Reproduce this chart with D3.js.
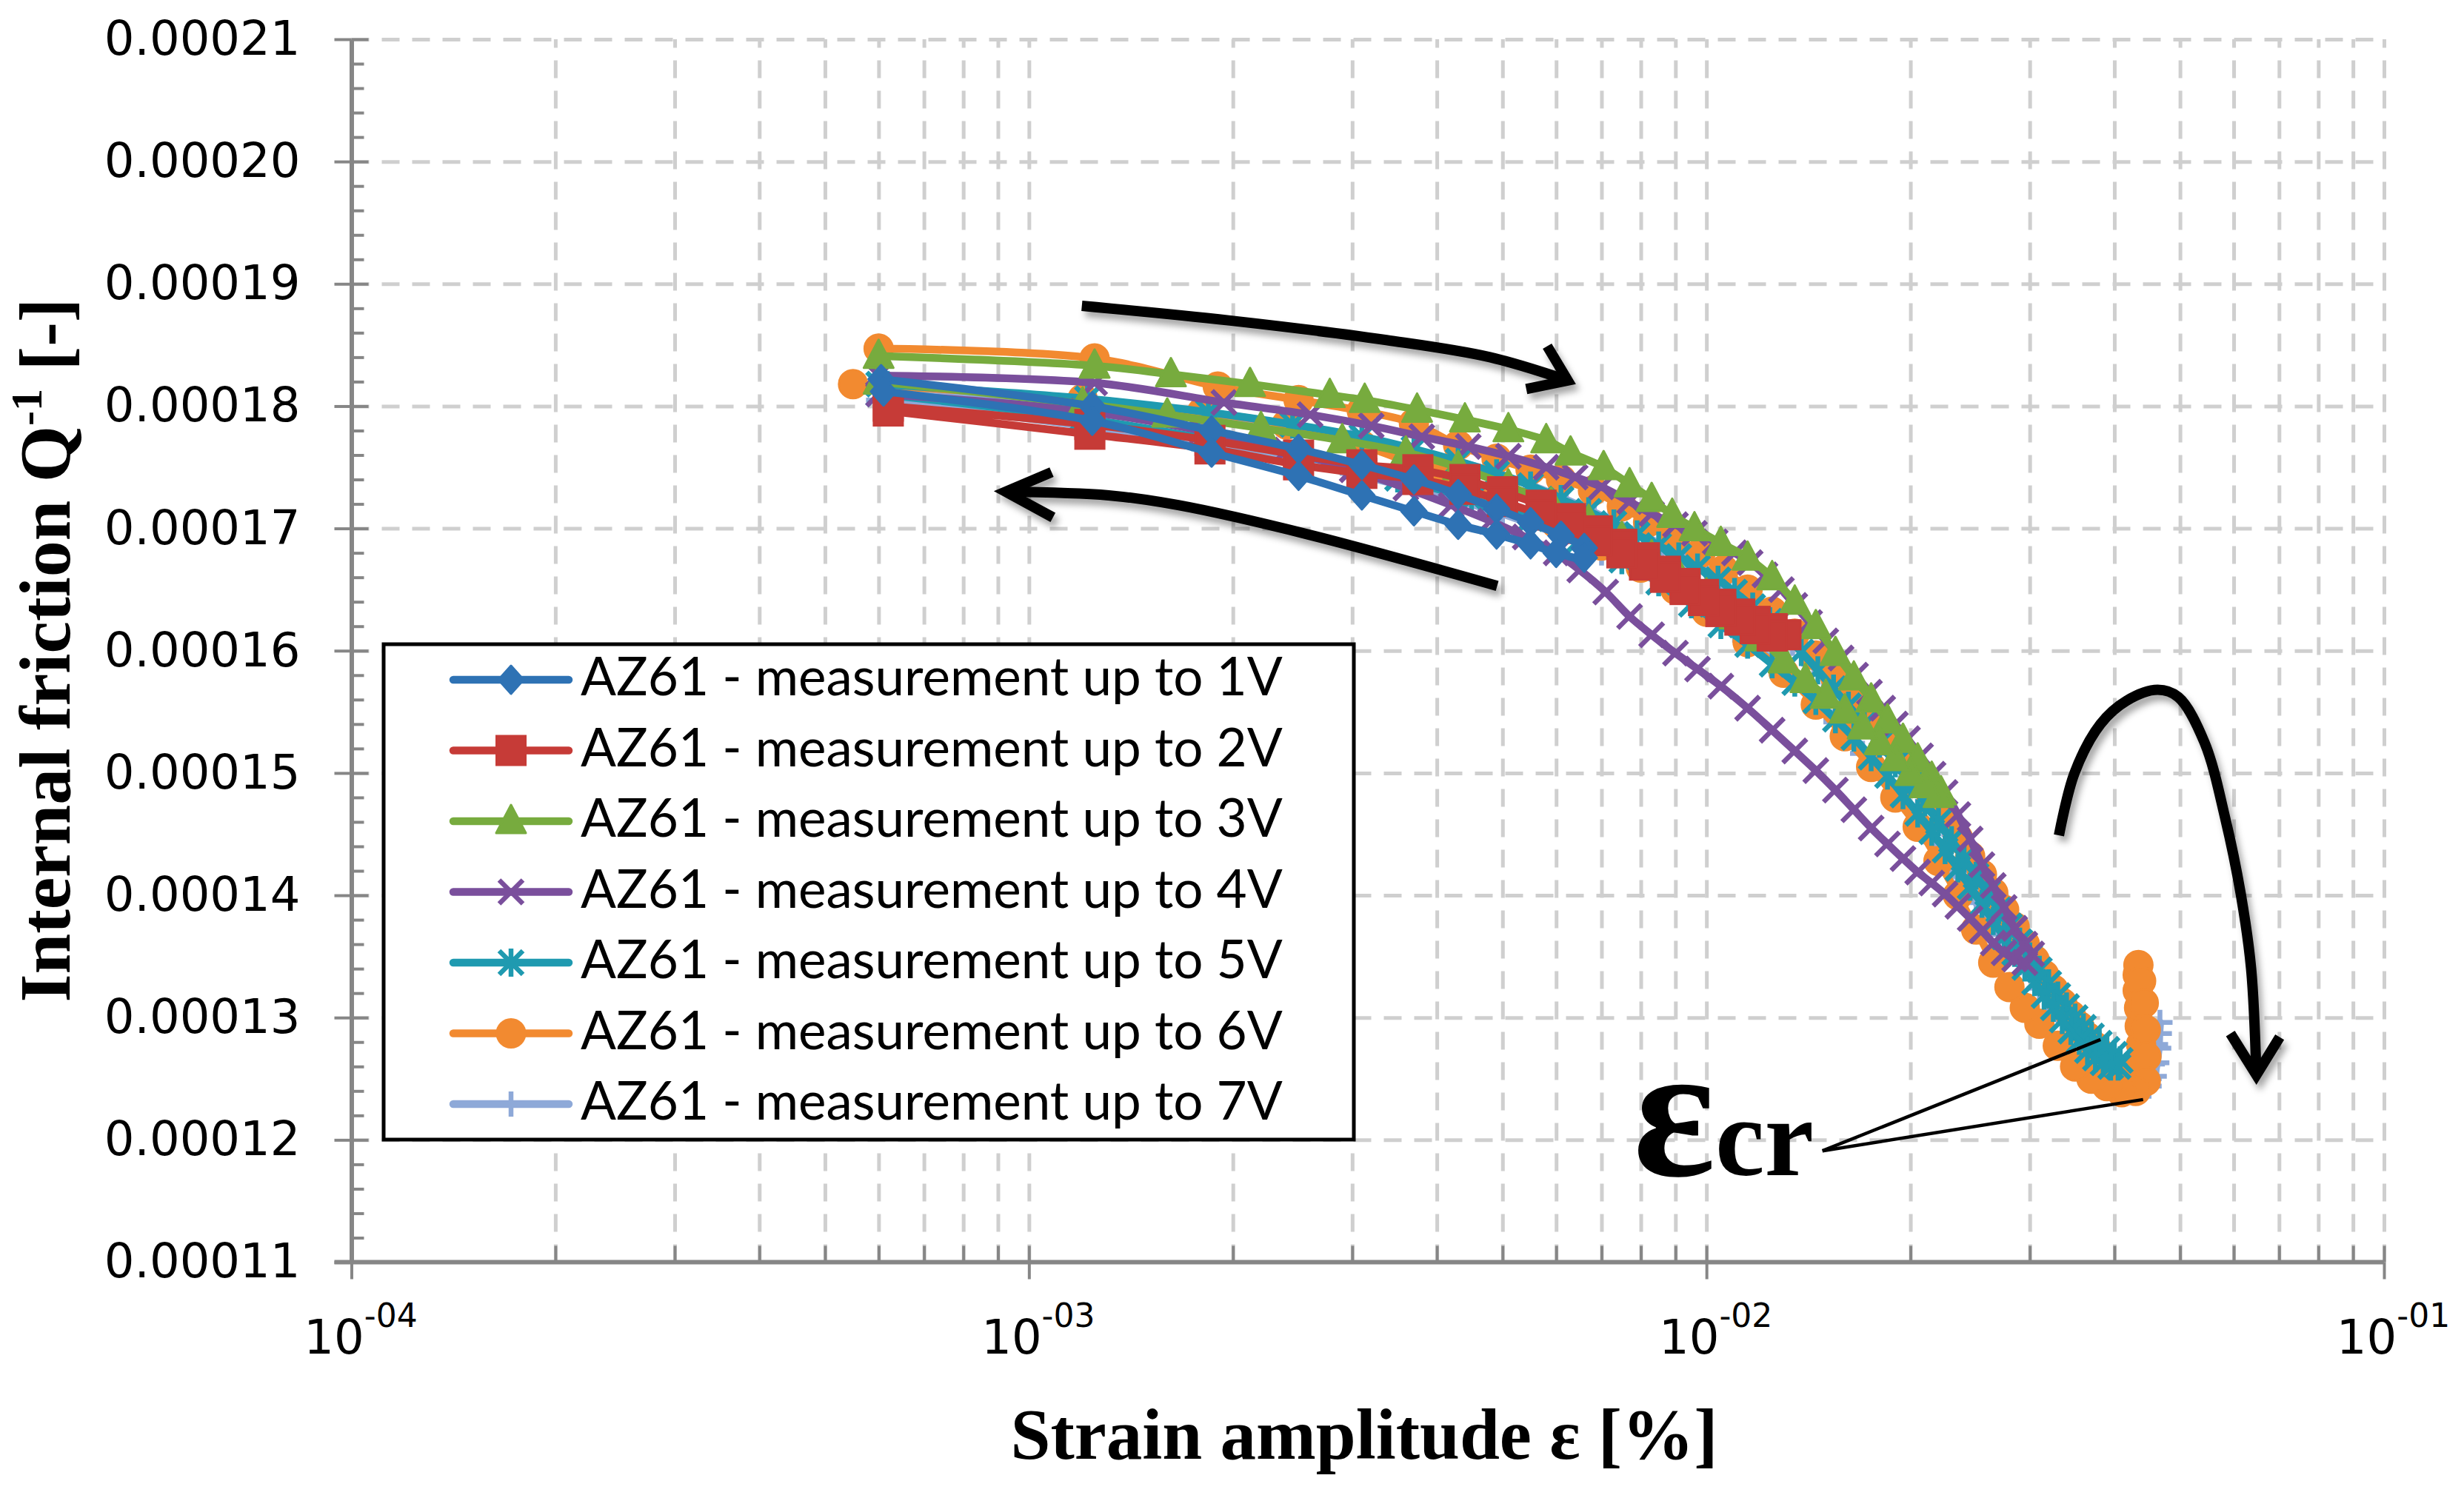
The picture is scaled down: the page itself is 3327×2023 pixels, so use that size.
<!DOCTYPE html>
<html><head><meta charset="utf-8">
<script src="https://cdn.jsdelivr.net/npm/d3@7"></script>
<style>body{margin:0;background:#fff}svg{display:block}</style>
</head><body>
<svg id="chart" width="3327" height="2023"></svg>
<script>
// ---------------- data ----------------
const seriesNames = ["AZ61 - measurement up to 1V","AZ61 - measurement up to 2V","AZ61 - measurement up to 3V","AZ61 - measurement up to 4V","AZ61 - measurement up to 5V","AZ61 - measurement up to 6V","AZ61 - measurement up to 7V"];
const seriesColors = ["#2E72B4","#C63B37","#77AB3E","#7A4F9C","#1F9AB0","#F28A30","#8EA9D8"];
const seriesSymbols = ["diamond","square","triangle","x","star","circle","plus"];
const yTickValues = [0.00011,0.00012,0.00013,0.00014,0.00015,0.00016,0.00017,0.00018,0.00019,0.00020,0.00021];
const xTickValues = [1e-4,1e-3,1e-2,1e-1];
const xTickExponents = ["-04","-03","-02","-01"];

// [strain amplitude %, internal friction]  (ascending branch, then descending branch)
const az61_1V = [[6.05e-4,0.0001822],[1.24e-3,0.0001800],[1.86e-3,0.0001780],[2.5e-3,0.0001765],[3.1e-3,0.0001752],[3.7e-3,0.0001740],[4.3e-3,0.0001728],[4.9e-3,0.0001716],[5.5e-3,0.0001705],[6.1e-3,0.0001694],[6.6e-3,0.0001684],
 [6.6e-3,0.0001676],[6.0e-3,0.0001680],[5.5e-3,0.0001687],[4.9e-3,0.0001695],[4.3e-3,0.0001703],[3.7e-3,0.0001714],[3.1e-3,0.0001727],[2.5e-3,0.0001743],[1.86e-3,0.0001762],[1.24e-3,0.0001788],[6.1e-4,0.0001812]];
const az61_2V = [[6.2e-4,0.0001800],[1.23e-3,0.0001785],[1.85e-3,0.0001772],[2.5e-3,0.0001760],[3.1e-3,0.0001752],[3.75e-3,0.0001748],[4.4e-3,0.0001740],[5.0e-3,0.0001730],[5.7e-3,0.0001719],[6.3e-3,0.0001708],[6.9e-3,0.0001698],[7.5e-3,0.0001687],[8.1e-3,0.0001676],[8.7e-3,0.0001665],[9.3e-3,0.0001655],[9.9e-3,0.0001646],[1.05e-2,0.0001638],[1.12e-2,0.0001630],[1.18e-2,0.0001624],[1.25e-2,0.0001618],[1.31e-2,0.0001613],
 [1.25e-2,0.0001612],[1.18e-2,0.0001618],[1.12e-2,0.0001625],[1.05e-2,0.0001632],[9.9e-3,0.0001641],[9.3e-3,0.0001650],[8.7e-3,0.0001660],[8.1e-3,0.0001670],[7.5e-3,0.0001680],[6.9e-3,0.0001690],[6.3e-3,0.0001700],[5.7e-3,0.0001711],[5.0e-3,0.0001722],[4.4e-3,0.0001732],[3.75e-3,0.0001740],[3.1e-3,0.0001745],[2.5e-3,0.0001752],[1.85e-3,0.0001765],[1.23e-3,0.0001777],[6.2e-4,0.0001796]];
const az61_3V = [[6.0e-4,0.0001841],[1.25e-3,0.0001833],[1.62e-3,0.0001826],[2.12e-3,0.0001818],[2.78e-3,0.0001809],[3.13e-3,0.0001805],[3.74e-3,0.0001797],[4.4e-3,0.0001789],[5.1e-3,0.0001781],[5.8e-3,0.0001772],[6.3e-3,0.0001762],[7.05e-3,0.0001750],[7.7e-3,0.0001736],[8.3e-3,0.0001724],[8.9e-3,0.0001711],[9.6e-3,0.0001700],[1.05e-2,0.0001688],[1.15e-2,0.0001676],[1.25e-2,0.0001660],[1.35e-2,0.0001640],[1.45e-2,0.0001620],[1.55e-2,0.0001598],[1.65e-2,0.0001578],[1.75e-2,0.0001560],[1.85e-2,0.0001543],[1.95e-2,0.0001527],[2.05e-2,0.0001511],[2.15e-2,0.0001496],[2.22e-2,0.0001484],
 [2.2e-2,0.0001482],[2.1e-2,0.0001490],[2.0e-2,0.0001500],[1.9e-2,0.0001512],[1.8e-2,0.0001525],[1.7e-2,0.0001538],[1.6e-2,0.0001551],[1.5e-2,0.0001563],[1.4e-2,0.0001576],[1.3e-2,0.0001592],[1.2e-2,0.0001610],[1.1e-2,0.0001628],[1.0e-2,0.0001646],[9.1e-3,0.0001662],[8.3e-3,0.0001677],[7.5e-3,0.0001692],[6.7e-3,0.0001706],[5.9e-3,0.0001720],[5.1e-3,0.0001735],[4.3e-3,0.0001750],[3.6e-3,0.0001762],[2.9e-3,0.0001772],[2.2e-3,0.0001782],[1.6e-3,0.0001793],[1.2e-3,0.0001802],[6.0e-4,0.0001820]];
const az61_4V = [[6.0e-4,0.0001825],[1.25e-3,0.0001819],[1.94e-3,0.0001803],[2.6e-3,0.0001793],[3.2e-3,0.0001784],[3.8e-3,0.0001775],[4.45e-3,0.0001767],[5.1e-3,0.0001759],[5.8e-3,0.0001750],[6.4e-3,0.0001742],[7.0e-3,0.0001734],[7.7e-3,0.0001722],[8.3e-3,0.0001712],[9.0e-3,0.0001703],[9.6e-3,0.0001696],[1.03e-2,0.0001689],[1.1e-2,0.0001680],[1.16e-2,0.0001672],[1.22e-2,0.0001662],[1.29e-2,0.0001650],[1.35e-2,0.0001637],[1.42e-2,0.0001623],[1.5e-2,0.0001608],[1.58e-2,0.0001594],[1.66e-2,0.0001580],[1.74e-2,0.0001566],[1.82e-2,0.0001553],[1.9e-2,0.0001540],[1.98e-2,0.0001528],[2.07e-2,0.0001514],[2.16e-2,0.0001499],[2.25e-2,0.0001484],[2.35e-2,0.0001466],[2.45e-2,0.0001446],[2.55e-2,0.0001425],[2.65e-2,0.0001408],[2.75e-2,0.0001390],[2.85e-2,0.0001373],[2.95e-2,0.0001360],[3.02e-2,0.0001352],
 [2.95e-2,0.0001345],[2.85e-2,0.0001348],[2.75e-2,0.0001353],[2.65e-2,0.0001361],[2.55e-2,0.0001371],[2.45e-2,0.0001381],[2.35e-2,0.0001391],[2.25e-2,0.0001401],[2.15e-2,0.0001410],[2.05e-2,0.0001419],[1.95e-2,0.0001430],[1.85e-2,0.0001442],[1.75e-2,0.0001455],[1.65e-2,0.0001470],[1.55e-2,0.0001486],[1.45e-2,0.0001502],[1.35e-2,0.0001518],[1.25e-2,0.0001535],[1.15e-2,0.0001553],[1.05e-2,0.0001571],[9.7e-3,0.0001585],[9.0e-3,0.0001598],[8.3e-3,0.0001613],[7.7e-3,0.0001628],[7.1e-3,0.0001648],[6.5e-3,0.0001666],[6.0e-3,0.0001680],[5.4e-3,0.0001693],[4.8e-3,0.0001706],[4.2e-3,0.0001719],[3.6e-3,0.0001733],[3.0e-3,0.0001748],[2.4e-3,0.0001764],[1.8e-3,0.0001780],[1.2e-3,0.0001796],[6.0e-4,0.0001810]];
const az61_5V = [[6.0e-4,0.0001818],[1.22e-3,0.0001806],[1.84e-3,0.0001795],[2.45e-3,0.0001785],[3.1e-3,0.0001775],[3.7e-3,0.0001765],[4.3e-3,0.0001755],[4.9e-3,0.0001745],[5.5e-3,0.0001735],[6.1e-3,0.0001724],[6.7e-3,0.0001714],[7.3e-3,0.0001704],[7.9e-3,0.0001695],[8.5e-3,0.0001686],[9.1e-3,0.0001677],[9.7e-3,0.0001668],[1.04e-2,0.0001658],[1.1e-2,0.0001648],[1.17e-2,0.0001636],[1.24e-2,0.0001624],[1.31e-2,0.0001612],[1.38e-2,0.0001599],[1.46e-2,0.0001584],[1.54e-2,0.0001569],[1.62e-2,0.0001555],[1.71e-2,0.0001540],[1.8e-2,0.0001524],[1.9e-2,0.0001508],[2.0e-2,0.0001492],[2.1e-2,0.0001476],[2.2e-2,0.0001460],[2.3e-2,0.0001445],[2.4e-2,0.0001430],[2.5e-2,0.0001416],[2.6e-2,0.0001402],[2.7e-2,0.0001388],[2.8e-2,0.0001375],[2.9e-2,0.0001362],[3.0e-2,0.0001350],[3.1e-2,0.0001339],[3.2e-2,0.0001328],[3.3e-2,0.0001318],[3.4e-2,0.0001309],[3.5e-2,0.0001300],[3.6e-2,0.0001292],[3.7e-2,0.0001285],[3.8e-2,0.0001279],[3.9e-2,0.0001274],[4.0e-2,0.0001270],[4.08e-2,0.0001265],
 [4.05e-2,0.0001260],[3.95e-2,0.0001260],[3.85e-2,0.0001263],[3.75e-2,0.0001267],[3.65e-2,0.0001273],[3.55e-2,0.0001281],[3.45e-2,0.0001289],[3.35e-2,0.0001298],[3.25e-2,0.0001308],[3.15e-2,0.0001318],[3.05e-2,0.0001329],[2.95e-2,0.0001341],[2.85e-2,0.0001353],[2.75e-2,0.0001366],[2.65e-2,0.0001379],[2.55e-2,0.0001393],[2.45e-2,0.0001407],[2.35e-2,0.0001422],[2.25e-2,0.0001437],[2.15e-2,0.0001452],[2.05e-2,0.0001467],[1.95e-2,0.0001482],[1.85e-2,0.0001498],[1.75e-2,0.0001513],[1.65e-2,0.0001529],[1.55e-2,0.0001544],[1.45e-2,0.0001559],[1.35e-2,0.0001574],[1.25e-2,0.0001589],[1.15e-2,0.0001605],[1.05e-2,0.0001621],[9.5e-3,0.0001638],[8.5e-3,0.0001656],[7.5e-3,0.0001674],[6.5e-3,0.0001691],[5.5e-3,0.0001708],[4.5e-3,0.0001724],[3.5e-3,0.0001741],[2.5e-3,0.0001760],[1.8e-3,0.0001774],[1.2e-3,0.0001790],[6.0e-4,0.0001810]];
const az61_6V = [[6.0e-4,0.0001847],[1.25e-3,0.0001839],[1.9e-3,0.0001816],[2.5e-3,0.0001805],[3.1e-3,0.0001796],[3.7e-3,0.0001786],[4.3e-3,0.0001768],[4.9e-3,0.0001757],[5.5e-3,0.0001748],[6.1e-3,0.0001740],[6.8e-3,0.0001731],[7.5e-3,0.0001718],[8.2e-3,0.0001705],[9.0e-3,0.0001692],[9.8e-3,0.0001680],[1.06e-2,0.0001666],[1.15e-2,0.0001650],[1.25e-2,0.0001632],[1.35e-2,0.0001614],[1.45e-2,0.0001596],[1.55e-2,0.0001578],[1.65e-2,0.0001561],[1.75e-2,0.0001544],[1.85e-2,0.0001527],[1.95e-2,0.0001511],[2.05e-2,0.0001495],[2.15e-2,0.0001479],[2.25e-2,0.0001463],[2.35e-2,0.0001447],[2.45e-2,0.0001432],[2.55e-2,0.0001417],[2.65e-2,0.0001402],[2.75e-2,0.0001388],[2.85e-2,0.0001374],[2.95e-2,0.0001360],[3.05e-2,0.0001347],[3.15e-2,0.0001335],[3.25e-2,0.0001323],[3.35e-2,0.0001312],[3.45e-2,0.0001302],[3.55e-2,0.0001293],[3.65e-2,0.0001284],[3.75e-2,0.0001276],[3.85e-2,0.0001269],[3.95e-2,0.0001262],[4.05e-2,0.0001256],[4.15e-2,0.0001251],[4.25e-2,0.0001248],[4.35e-2,0.0001250],
 [4.38e-2,0.0001262],[4.38e-2,0.0001278],[4.36e-2,0.0001293],[4.35e-2,0.0001308],[4.33e-2,0.0001322],[4.33e-2,0.0001335],[4.34e-2,0.0001343],[4.38e-2,0.0001330],[4.42e-2,0.0001312],[4.45e-2,0.0001290],[4.46e-2,0.0001268],[4.45e-2,0.0001248],
 [4.3e-2,0.0001240],[4.1e-2,0.0001239],[3.9e-2,0.0001244],[3.7e-2,0.0001250],[3.5e-2,0.0001260],[3.3e-2,0.0001277],[3.1e-2,0.0001295],[2.95e-2,0.0001308],[2.8e-2,0.0001325],[2.65e-2,0.0001345],[2.5e-2,0.0001372],[2.35e-2,0.0001400],[2.2e-2,0.0001428],[2.05e-2,0.0001456],[1.9e-2,0.0001480],[1.75e-2,0.0001505],[1.6e-2,0.0001530],[1.45e-2,0.0001556],[1.3e-2,0.0001582],[1.15e-2,0.0001607],[1.0e-2,0.0001632],[9.0e-3,0.0001650],[8.0e-3,0.0001668],[7.0e-3,0.0001686],[6.0e-3,0.0001704],[5.0e-3,0.0001722],[4.0e-3,0.0001745],[3.1e-3,0.0001768],[2.4e-3,0.0001785],[1.8e-3,0.0001795],[1.2e-3,0.0001806],[5.5e-4,0.0001818]];
const az61_7V = [[6.0e-4,0.0001816],[1.2e-3,0.0001802],[1.8e-3,0.0001792],[2.4e-3,0.0001783],[3.0e-3,0.0001774],[3.6e-3,0.0001765],[4.2e-3,0.0001756],[4.8e-3,0.0001747],[5.4e-3,0.0001737],[6.0e-3,0.0001727],[6.6e-3,0.0001717],[7.2e-3,0.0001707],[7.9e-3,0.0001697],[8.6e-3,0.0001686],[9.3e-3,0.0001675],[1.0e-2,0.0001664],[1.08e-2,0.0001651],[1.16e-2,0.0001637],[1.25e-2,0.0001622],[1.34e-2,0.0001606],[1.44e-2,0.0001589],[1.54e-2,0.0001572],[1.65e-2,0.0001554],[1.76e-2,0.0001536],[1.88e-2,0.0001516],[2.0e-2,0.0001496],[2.12e-2,0.0001477],[2.24e-2,0.0001458],[2.36e-2,0.0001439],[2.48e-2,0.0001420],[2.6e-2,0.0001402],[2.72e-2,0.0001385],[2.84e-2,0.0001368],[2.96e-2,0.0001352],[3.08e-2,0.0001337],[3.2e-2,0.0001323],[3.32e-2,0.0001310],[3.44e-2,0.0001298],[3.56e-2,0.0001287],[3.68e-2,0.0001277],[3.8e-2,0.0001268],[3.92e-2,0.0001260],[4.04e-2,0.0001253],[4.16e-2,0.0001247],[4.28e-2,0.0001243],[4.4e-2,0.0001241],[4.5e-2,0.0001244],[4.58e-2,0.0001252],[4.62e-2,0.0001263],[4.65e-2,0.0001275],[4.66e-2,0.0001287],[4.67e-2,0.0001296],
 [4.6e-2,0.0001278],[4.55e-2,0.0001262],[4.5e-2,0.0001250],[4.4e-2,0.0001243],[4.25e-2,0.0001245],[4.1e-2,0.0001250],[3.9e-2,0.0001262],[3.7e-2,0.0001275],[3.5e-2,0.0001290],[3.3e-2,0.0001306],[3.1e-2,0.0001324],[2.9e-2,0.0001345],[2.7e-2,0.0001368],[2.5e-2,0.0001394],[2.3e-2,0.0001422],[2.1e-2,0.0001452],[1.9e-2,0.0001484],[1.7e-2,0.0001516],[1.5e-2,0.0001550],[1.3e-2,0.0001584],[1.1e-2,0.0001617],[9.0e-3,0.0001648],[7.0e-3,0.0001680],[5.0e-3,0.0001712],[3.0e-3,0.0001745],[1.8e-3,0.0001770],[6.0e-4,0.0001805]];
const seriesData = [az61_1V, az61_2V, az61_3V, az61_4V, az61_5V, az61_6V, az61_7V];

// annotation paths in data space (strain, Q)
const arrowUpper = [[1.197e-3,0.0001882],[1.98e-3,0.0001870],[3.37e-3,0.0001854],[4.79e-3,0.0001840],[6.24e-3,0.0001821]];
const arrowUpperHead = [[5.82e-3,0.0001849],[6.24e-3,0.0001821],[5.42e-3,0.0001814]];
const arrowLower = [[4.91e-3,0.0001653],[2.585e-3,0.0001695],[1.661e-3,0.0001719],[1.311e-3,0.0001727],[9.24e-4,0.0001730]];
const arrowLowerHead = [[1.08e-3,0.0001746],[9.24e-4,0.0001730],[1.085e-3,0.0001709]];
const arrowRight = [[3.313e-2,0.0001449],[3.493e-2,0.0001500],[3.815e-2,0.0001540],[4.167e-2,0.0001559],[4.633e-2,0.0001568],[4.972e-2,0.0001562],[5.433e-2,0.0001525],[5.83e-2,0.0001463],[6.146e-2,0.0001401],[6.366e-2,0.0001340],[6.48e-2,0.0001253]];
const arrowRightHead = [[5.933e-2,0.0001287],[6.48e-2,0.0001253],[7.015e-2,0.0001284]];
const ecrAnchor = [1.483e-2,0.0001191];
const ecrTargets = [[3.816e-2,0.0001282],[4.41e-2,0.0001233]];
const ecrTextPos = [7.79e-3,0.0001171];

// ---------------- chart ----------------
const svg = d3.select("#chart");
svg.append("rect").attr("width",3327).attr("height",2023).attr("fill","#fff");
const defs = svg.append("defs");
const f = defs.append("filter").attr("id","shadow").attr("x","-20%").attr("y","-20%").attr("width","140%").attr("height","140%");
f.append("feDropShadow").attr("dx",5).attr("dy",8).attr("stdDeviation",5).attr("flood-color","#000").attr("flood-opacity",0.35);

const x = d3.scaleLog().domain([1e-4,1e-1]).range([474.5,3219]);
const y = d3.scaleLinear().domain([0.00011,0.00021]).range([1704.5,53]);
const x0 = x.range()[0], x1 = x.range()[1], y0 = y.range()[0], y1 = y.range()[1];

const xMinor = [];
[1e-4,1e-3,1e-2].forEach(d=>{ for(let k=2;k<=9;k++) xMinor.push(k*d); });
const yMinor = d3.range(0,51).map(i=>0.00011+i*0.000002);

const gridStyle = g => g.selectAll("line").attr("stroke","#cfcfcf").attr("stroke-width",5).attr("stroke-dasharray","24,17");
// vertical gridlines
svg.append("g").attr("transform",`translate(0,${y0})`)
  .call(d3.axisBottom(x).tickValues(xMinor.concat([1e-3,1e-2,1e-1])).tickSize(-(y0-y1)).tickFormat(""))
  .call(g=>g.select(".domain").remove()).call(gridStyle);
// horizontal gridlines
svg.append("g").attr("transform",`translate(${x0},0)`)
  .call(d3.axisLeft(y).tickValues(yTickValues.slice(1)).tickSize(-(x1-x0)).tickFormat(""))
  .call(g=>g.select(".domain").remove()).call(gridStyle);

const axisColor = "#868686";
const styleAxis = g => { g.select(".domain").attr("stroke",axisColor).attr("stroke-width",6); g.selectAll(".tick line").attr("stroke",axisColor).attr("stroke-width",4); };

// Y axis
svg.append("g").attr("transform",`translate(${x0},0)`)
  .call(d3.axisLeft(y).tickValues(yTickValues).tickSize(23).tickSizeOuter(0).tickPadding(46).tickFormat(d=>d.toFixed(5)))
  .call(styleAxis)
  .call(g=>g.selectAll("text").attr("font-family","DejaVu Sans").attr("font-size",64).attr("fill","#000"));
svg.append("g").attr("transform",`translate(${x0},0)`)
  .call(d3.axisRight(y).tickValues(yTickValues).tickSize(23).tickSizeOuter(0).tickFormat(""))
  .call(g=>g.select(".domain").remove()).call(styleAxis);
svg.append("g").attr("transform",`translate(${x0},0)`)
  .call(d3.axisRight(y).tickValues(yMinor.filter(v=>!yTickValues.some(t=>Math.abs(t-v)<1e-9))).tickSize(17).tickSizeOuter(0).tickFormat(""))
  .call(g=>g.select(".domain").remove()).call(styleAxis);

// X axis
svg.append("g").attr("transform",`translate(0,${y0})`)
  .call(d3.axisTop(x).tickValues(xMinor.concat(xTickValues)).tickSize(22).tickSizeOuter(0).tickFormat(""))
  .call(g=>g.select(".domain").remove()).call(styleAxis);
const xAx = svg.append("g").attr("transform",`translate(0,${y0})`)
  .call(d3.axisBottom(x).tickValues(xTickValues).tickSize(23).tickSizeOuter(0).tickFormat(""))
  .call(styleAxis);
xAx.select(".domain").attr("d",`M${x0-23},0H${x1}`);
xAx.selectAll(".tick").each(function(d,i){
  const t = d3.select(this).append("text").attr("x",12).attr("y",123.5)
    .attr("text-anchor","middle").attr("font-family","DejaVu Sans").attr("fill","#000");
  t.append("tspan").attr("font-size",64).text("10");
  t.append("tspan").attr("font-size",44).attr("dy",-36).text(xTickExponents[i]);
});

// axis titles
const yt = svg.append("text").attr("transform","translate(94,878) rotate(-90)")
  .attr("text-anchor","middle").attr("font-family","Liberation Serif").attr("font-weight","bold").attr("font-size",98).attr("fill","#000");
yt.append("tspan").text("Internal friction Q");
yt.append("tspan").attr("font-size",60).attr("dy",-38).text("-1");
yt.append("tspan").attr("dy",38).text(" [-]");
svg.append("text").attr("x",1842).attr("y",1970).attr("text-anchor","middle")
  .attr("font-family","Liberation Serif").attr("font-weight","bold").attr("font-size",97).attr("fill","#000")
  .text("Strain amplitude ε [%]");

// markers
function drawMarker(g, sym, color){
  switch(sym){
    case "diamond": g.append("path").attr("d","M0,-19L17,0L0,19L-17,0Z").attr("fill",color).attr("stroke",color).attr("stroke-width",3).attr("stroke-linejoin","round"); break;
    case "square": g.append("rect").attr("x",-19.5).attr("y",-19.5).attr("width",39).attr("height",39).attr("fill",color).attr("stroke",color).attr("stroke-width",3); break;
    case "triangle": g.append("path").attr("d","M0,-22L20,16L-20,16Z").attr("fill",color).attr("stroke",color).attr("stroke-width",3).attr("stroke-linejoin","round"); break;
    case "x": g.append("path").attr("d","M-16,-16L16,16M-16,16L16,-16").attr("stroke",color).attr("stroke-width",6.5).attr("fill","none"); break;
    case "star": g.append("path").attr("d","M-16,-16L16,16M-16,16L16,-16M0,-19L0,19").attr("stroke",color).attr("stroke-width",6.5).attr("fill","none"); break;
    case "circle": g.append("circle").attr("r",19).attr("fill",color).attr("stroke",color).attr("stroke-width",3); break;
    case "plus": g.append("path").attr("d","M0,-17L0,17M-17,0L17,0").attr("stroke",color).attr("stroke-width",6.5).attr("fill","none"); break;
  }
}

const line = d3.line().x(d=>x(d[0])).y(d=>y(d[1])).curve(d3.curveCatmullRom.alpha(0.5));
const plot = svg.append("g");
for(let s=seriesData.length-1;s>=0;s--){
  const g = plot.append("g");
  g.append("path").datum(seriesData[s]).attr("d",line).attr("fill","none")
    .attr("stroke",seriesColors[s]).attr("stroke-width",10.5).attr("stroke-linejoin","round").attr("stroke-linecap","round");
  g.selectAll("g.m").data(seriesData[s]).enter().append("g").attr("class","m")
    .attr("transform",d=>`translate(${x(d[0])},${y(d[1])})`)
    .each(function(){ drawMarker(d3.select(this), seriesSymbols[s], seriesColors[s]); });
}

// legend
const lg = svg.append("g");
lg.append("rect").attr("x",518).attr("y",870).attr("width",1310).attr("height",669)
  .attr("fill","#fff").attr("stroke","#000").attr("stroke-width",5);
seriesNames.forEach((n,i)=>{
  const cy = 918 + i*95.5;
  const row = lg.append("g").attr("transform",`translate(0,${cy})`);
  row.append("line").attr("x1",612).attr("x2",768).attr("y1",0).attr("y2",0)
    .attr("stroke",seriesColors[i]).attr("stroke-width",10.5).attr("stroke-linecap","round");
  drawMarker(row.append("g").attr("transform","translate(690,0)"), seriesSymbols[i], seriesColors[i]);
  const t = row.append("text").attr("x",784).attr("y",21).attr("font-family","Lato").attr("font-size",70).attr("fill","#000").text(n);
  const len = t.node().getComputedTextLength();
  if(len>0) t.attr("font-size",70*948/len);
});

// annotations
const aLine = d3.line().x(d=>x(d[0])).y(d=>y(d[1])).curve(d3.curveCatmullRom.alpha(0.5));
const sLine = d3.line().x(d=>x(d[0])).y(d=>y(d[1]));
const ann = svg.append("g").attr("filter","url(#shadow)");
[[arrowUpper,arrowUpperHead],[arrowLower,arrowLowerHead],[arrowRight,arrowRightHead]].forEach(([p,h])=>{
  ann.append("path").attr("d",aLine(p)).attr("fill","none").attr("stroke","#000").attr("stroke-width",14).attr("stroke-linecap","butt");
  ann.append("path").attr("d",sLine(h)).attr("fill","none").attr("stroke","#000").attr("stroke-width",14).attr("stroke-linejoin","miter");
});
ecrTargets.forEach(tg=>{
  svg.append("line").attr("x1",x(ecrAnchor[0])).attr("y1",y(ecrAnchor[1])).attr("x2",x(tg[0])).attr("y2",y(tg[1]))
    .attr("stroke","#000").attr("stroke-width",4.5);
});
const et = svg.append("text").attr("x",x(ecrTextPos[0])).attr("y",y(ecrTextPos[1]))
  .attr("font-family","Liberation Serif").attr("font-weight","bold").attr("fill","#000");
et.append("tspan").attr("font-size",260).text("ε");
et.append("tspan").attr("font-size",150).text("cr");
</script>
</body></html>
